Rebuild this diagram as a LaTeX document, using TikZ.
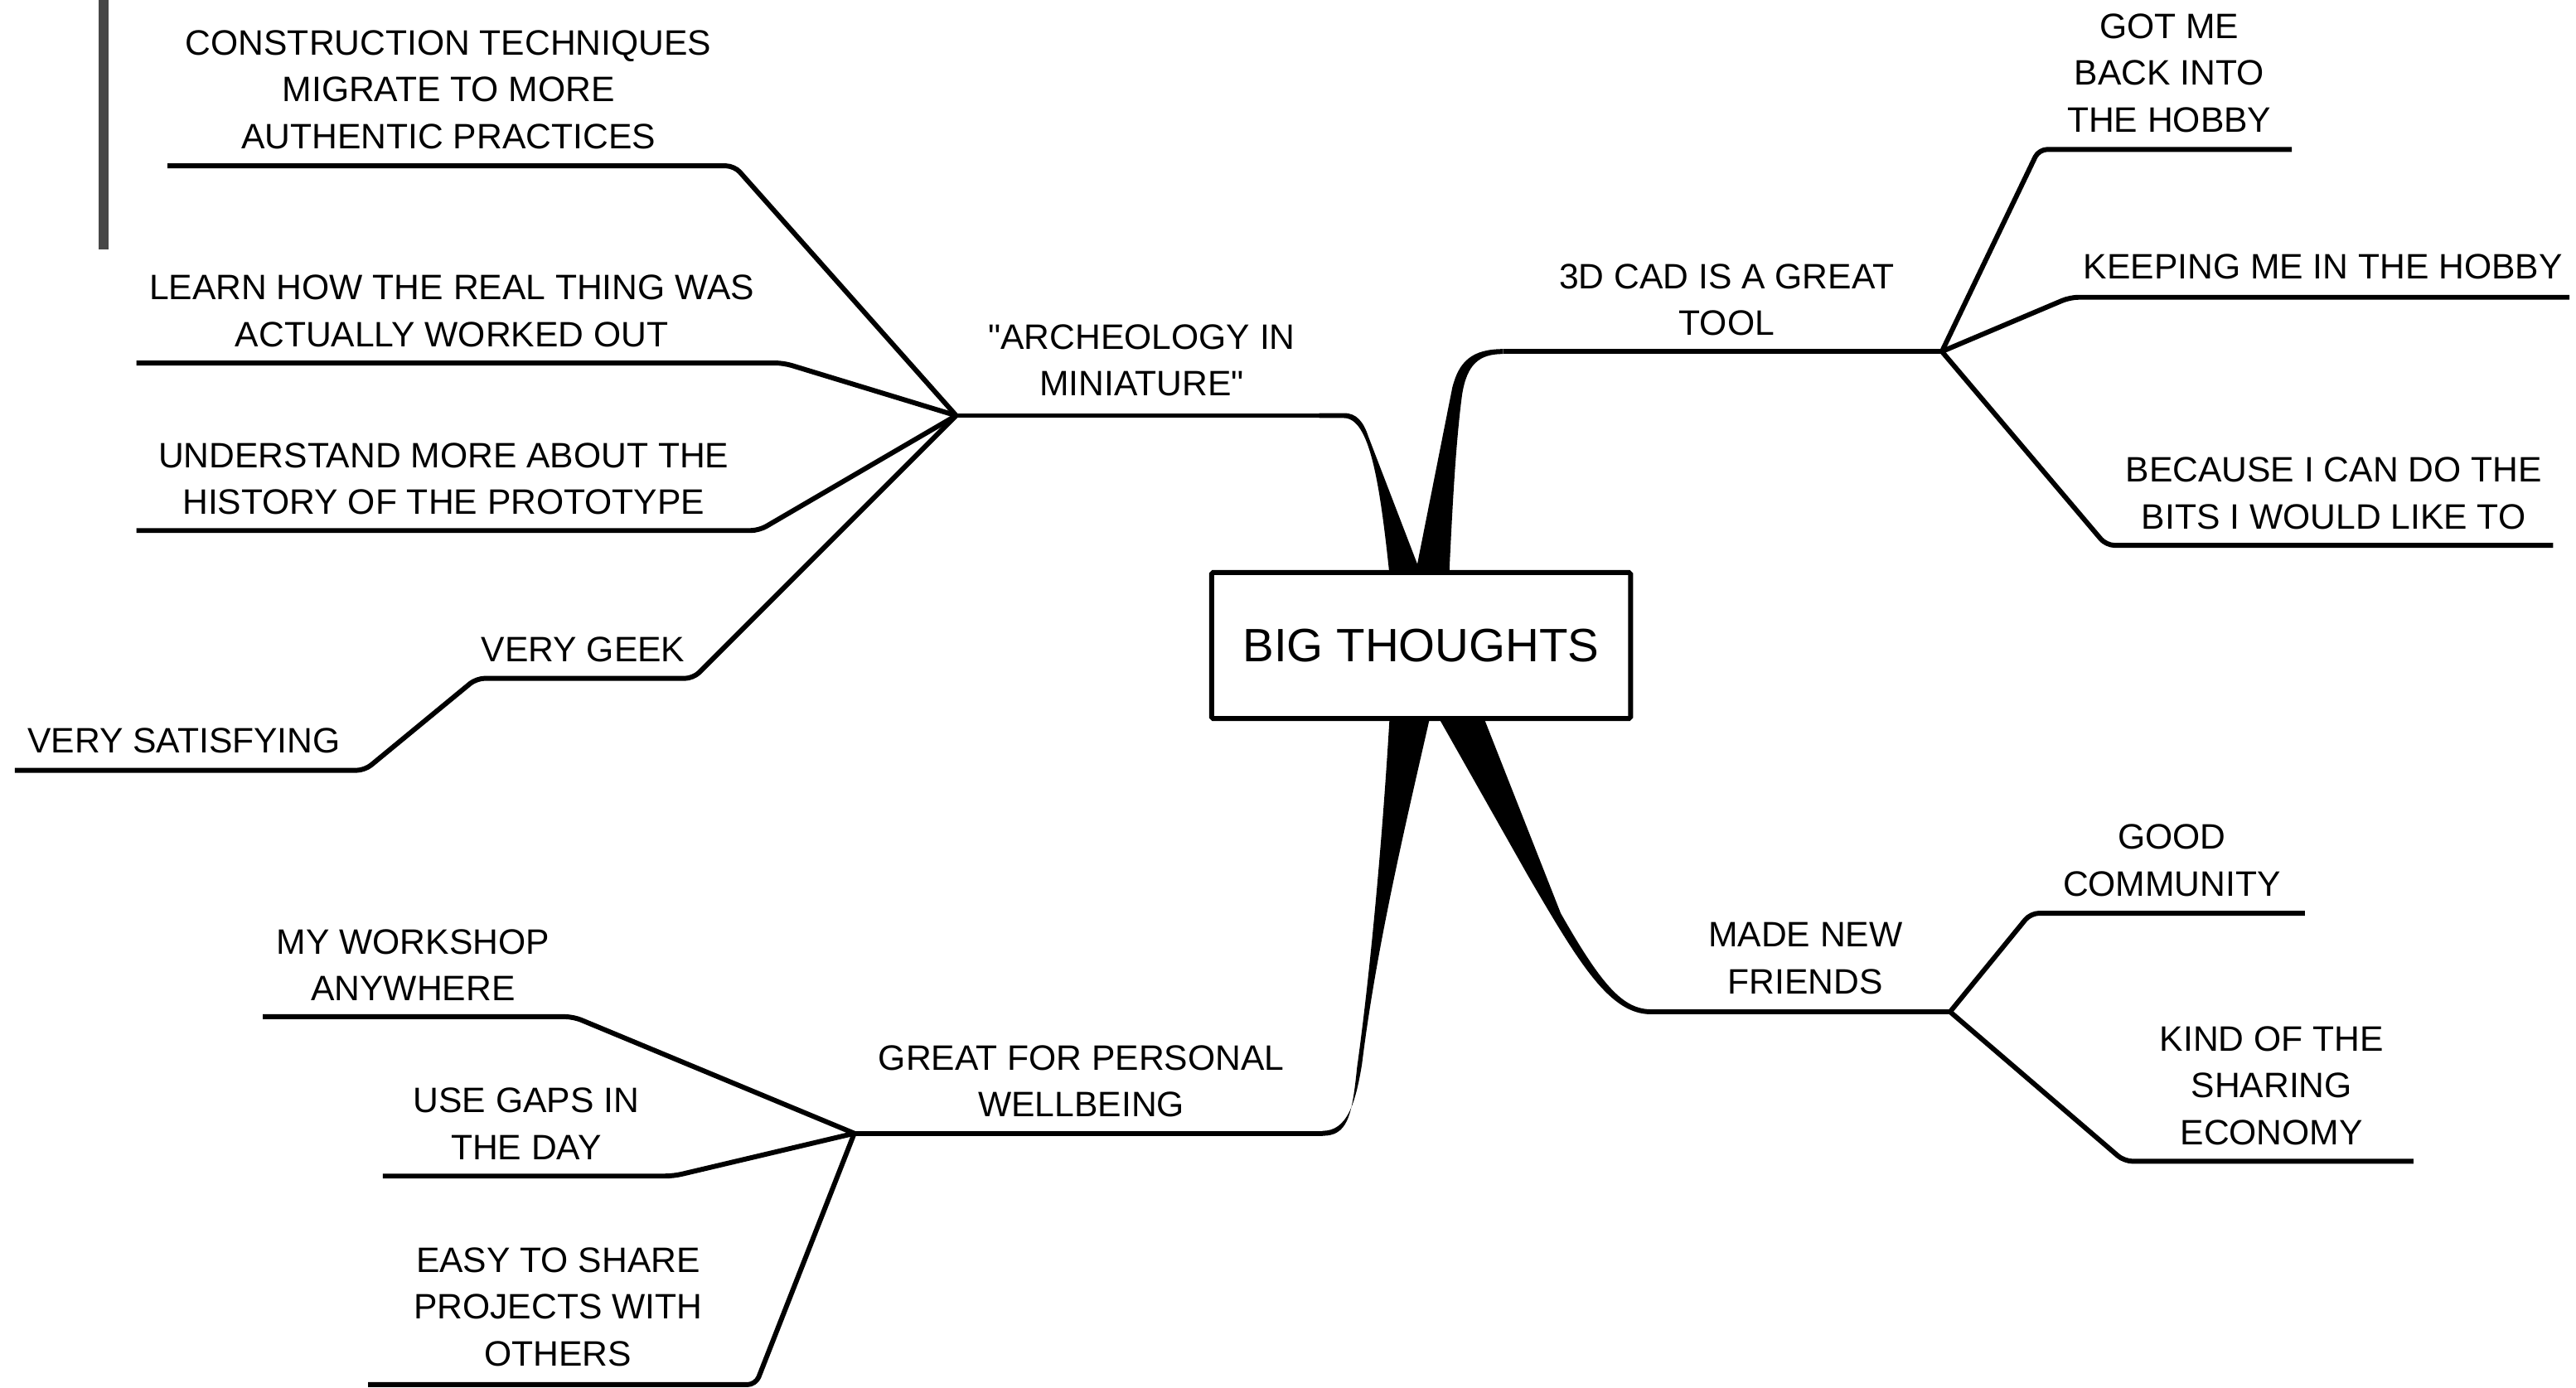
\documentclass[tikz,border=0pt]{standalone}
\usepackage{fontspec}
\setmainfont{Liberation Sans}[Ligatures=TeXOff]
\definecolor{barc}{HTML}{474747}
\begin{document}
\begin{tikzpicture}[x=1pt,y=-1pt,
  lbl/.style={font=\fontsize{21.5}{28.6}\selectfont, align=center, inner sep=0pt},
  twig/.style={line width=3pt, line join=round, line cap=butt, rounded corners=5pt},
  trunk/.style={line width=3pt, line cap=butt},
  limb/.style={fill=black}]
\useasboundingbox (0,0) rectangle (1568,845);

% gray bar
\fill[barc] (60,0) rectangle (66,152);

% hubs and corners
\coordinate (A) at (582,253);
\coordinate (Ae) at (818,253);
\coordinate (B) at (1182,214);
\coordinate (Be) at (915,214);
\coordinate (C) at (1187,616);
\coordinate (Ce) at (1005,616);
\coordinate (D) at (520,690);
\coordinate (De) at (805,690);

% tapered limbs from the centre
\fill[limb] (803,251.5) -- (818,251.5) .. controls (826,251.5) and (830,257) .. (833,266) -- (866,352) -- (846,352) .. controls (840,295) and (834,254.5) .. (818,254.5) -- (803,254.5) -- cycle;
\fill[limb] (861,352) -- (884,236) .. controls (888,220) and (896,212.5) .. (915,212.5) -- (915,215.5) .. controls (900,215.5) and (893,222) .. (890,240) .. controls (886,270) and (884,310) .. (882,352) -- cycle;
\fill[limb] (874,434) -- (930,533) .. controls (962,588) and (980,617.5) .. (1005,617.5) -- (1005,614.5) .. controls (988,614.5) and (975,600) .. (950,556) -- (902,434) -- cycle;
\fill[limb] (846,434) .. controls (841,520) and (833,600) .. (826,650) .. controls (823,680) and (820,691.5) .. (805,691.5) -- (805,688.5) .. controls (820,688.5) and (825,672) .. (829,648) .. controls (838,575) and (856,500) .. (871,434) -- cycle;

% central node
\node[draw, line width=3pt, fill=white, rounded corners=1pt, minimum width=255pt, minimum height=89pt, inner sep=0pt, font=\fontsize{28.5}{34}\selectfont] (big) at (865,393) {BIG THOUGHTS};

% main underlines
\draw[trunk] (A) -- (Ae);
\draw[trunk] (Be) -- (B);
\draw[trunk] (Ce) -- (C);
\draw[trunk] (D) -- (De);

% archeology children
\coordinate (a1l) at (102,101); \coordinate (a1r) at (447,101);
\coordinate (a2l) at (83,221);  \coordinate (a2r) at (477,221);
\coordinate (a3l) at (83,323);  \coordinate (a3r) at (462,323);
\coordinate (a4l) at (290,413); \coordinate (a4r) at (422,413);
\coordinate (a5l) at (9,469);   \coordinate (a5r) at (222,469);
\draw[twig] (a1l) -- (a1r) -- (A);
\draw[twig] (a2l) -- (a2r) -- (A);
\draw[twig] (a3l) -- (a3r) -- (A);
\draw[twig] (a5l) -- (a5r) -- (a4l) -- (a4r) -- (A);

% 3D CAD children
\coordinate (b1l) at (1241,91);  \coordinate (b1r) at (1395,91);
\coordinate (b2l) at (1260,181); \coordinate (b2r) at (1564,181);
\coordinate (b3l) at (1282,332); \coordinate (b3r) at (1554,332);
\draw[twig] (B) -- (b1l) -- (b1r);
\draw[twig] (B) -- (b2l) -- (b2r);
\draw[twig] (B) -- (b3l) -- (b3r);

% friends children
\coordinate (c1l) at (1236,556); \coordinate (c1r) at (1403,556);
\coordinate (c2l) at (1293,707); \coordinate (c2r) at (1469,707);
\draw[twig] (C) -- (c1l) -- (c1r);
\draw[twig] (C) -- (c2l) -- (c2r);

% wellbeing children
\coordinate (d1l) at (160,619); \coordinate (d1r) at (349,619);
\coordinate (d2l) at (233,716); \coordinate (d2r) at (410,716);
\coordinate (d3l) at (224,843); \coordinate (d3r) at (460,843);
\draw[twig] (d1l) -- (d1r) -- (D);
\draw[twig] (d2l) -- (d2r) -- (D);
\draw[twig] (d3l) -- (d3r) -- (D);

% labels
\node[lbl] (n1) at (273,54.5) {CONSTRUCTION TECHNIQUES\\MIGRATE TO MORE\\AUTHENTIC PRACTICES};
\node[lbl] (n2) at (275,189.5) {LEARN HOW THE REAL THING WAS\\ACTUALLY WORKED OUT};
\node[lbl] (n3) at (270,291.5) {UNDERSTAND MORE ABOUT THE\\HISTORY OF THE PROTOTYPE};
\node[lbl] (n4) at (355,395.6) {VERY GEEK};
\node[lbl] (n5) at (112,451) {VERY SATISFYING};
\node[lbl] (arch) at (695,219.3) {"ARCHEOLOGY IN\\MINIATURE"};
\node[lbl] (cad) at (1051,182.5) {3D CAD IS A GREAT\\TOOL};
\node[lbl] (m1) at (1320.4,44.5) {GOT ME\\BACK INTO\\THE HOBBY};
\node[lbl] (m2) at (1414,162.2) {KEEPING ME IN THE HOBBY};
\node[lbl] (m3) at (1420.5,300.2) {BECAUSE I CAN DO THE\\BITS I WOULD LIKE TO};
\node[lbl] (fr) at (1099,583.5) {MADE NEW\\FRIENDS};
\node[lbl] (g1) at (1322,523.8) {GOOD\\COMMUNITY};
\node[lbl] (g2) at (1382.7,661) {KIND OF THE\\SHARING\\ECONOMY};
\node[lbl] (wb) at (658.2,658.3) {GREAT FOR PERSONAL\\WELLBEING};
\node[lbl] (w1) at (251.4,587.5) {MY WORKSHOP\\ANYWHERE};
\node[lbl] (w2) at (320.3,684.2) {USE GAPS IN\\THE DAY};
\node[lbl] (w3) at (339.7,795.7) {EASY TO SHARE\\PROJECTS WITH\\OTHERS};
\end{tikzpicture}
\end{document}
